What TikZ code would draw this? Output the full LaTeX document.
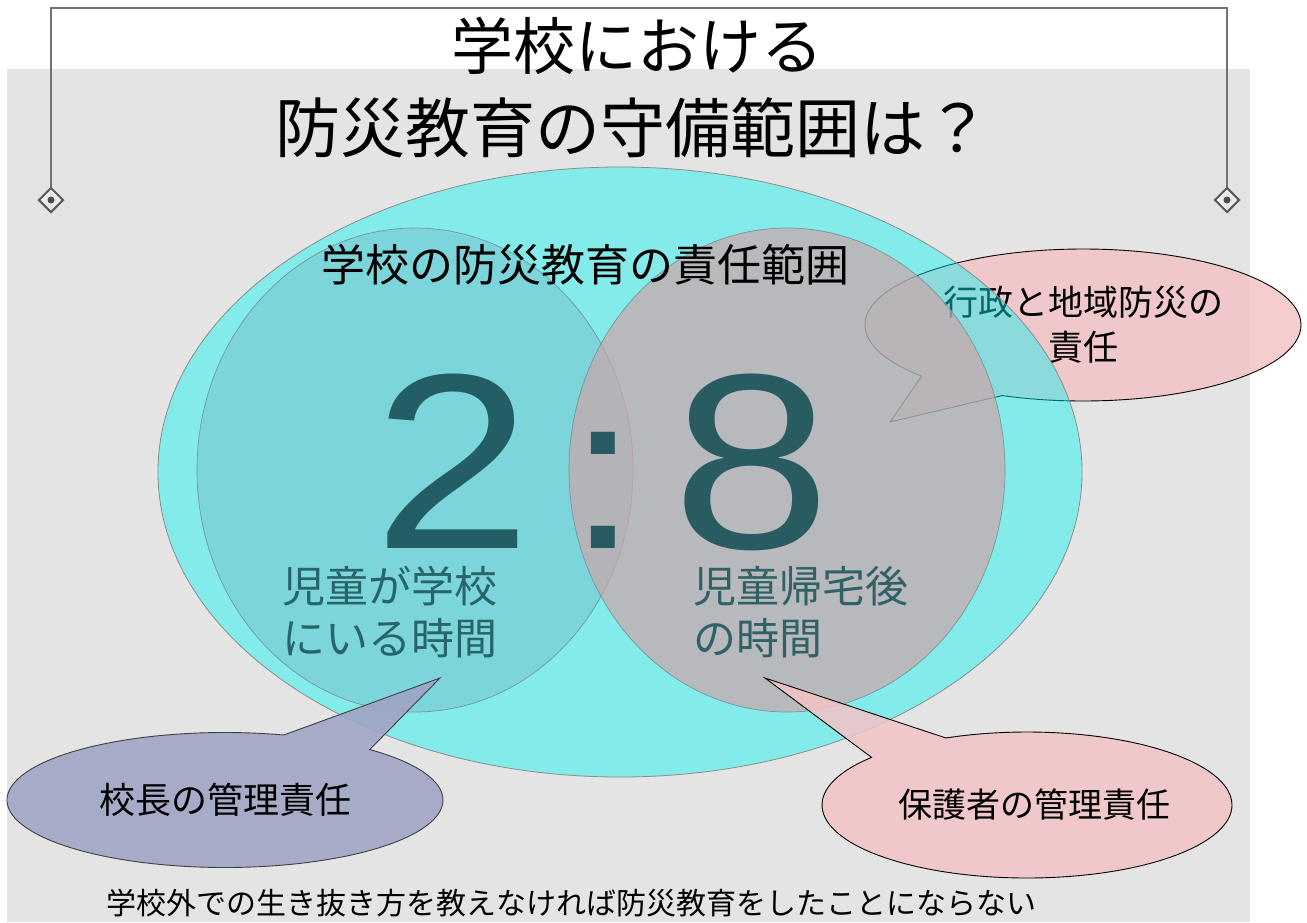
\documentclass[tikz,border=0pt]{standalone}
\usepackage{fontspec}
\setmainfont{Noto Sans CJK JP}
\newfontfamily\digitfont{Liberation Sans}
\usetikzlibrary{shapes.geometric,shapes.callouts}
\definecolor{bggray}{RGB}{228,228,228}
\definecolor{zonecyan}{RGB}{0,245,245}
\definecolor{schoolblue}{RGB}{100,150,170}
\definecolor{homepink}{RGB}{205,165,170}
\definecolor{bubblepink}{RGB}{244,196,198}
\definecolor{bubbleblue}{RGB}{160,165,196}
\definecolor{darkteal}{RGB}{25,82,88}
\tikzset{
  bubble/.style={ellipse callout, draw=black, line width=0.9pt, callout pointer arc=26,
    inner sep=0pt, align=center, text opacity=1, font=\fontsize{35}{45}\selectfont},
  pinkbubble/.style={bubble, fill=bubblepink, fill opacity=0.85},
  bluebubble/.style={bubble, fill=bubbleblue, fill opacity=0.9, draw=black!75},
  marker/.style={diamond, draw=black!65, line width=2pt, fill=black!8, minimum size=25pt, inner sep=0pt},
  bignum/.style={anchor=base, inner sep=0pt, text=darkteal, text opacity=0.9, xscale=1.14, transform shape},
  timetext/.style={anchor=west, align=left, inner sep=0pt, text=darkteal, text opacity=0.85, font=\fontsize{43}{52}\selectfont},
}
\begin{document}
\begin{tikzpicture}[x=1pt,y=-1pt]
  \useasboundingbox (0,0) rectangle (1307,922);
  \fill[bggray] (7,69) rectangle (1250,922); % slide background
  % bracket with markers
  \node[marker] (markL) at (51,200) {};
  \node[marker] (markR) at (1227,200) {};
  \fill[black!70] (markL) circle (3.5pt);
  \fill[black!70] (markR) circle (3.5pt);
  \coordinate (barmid) at (639,8);
  \draw[black!55, line width=1.5pt] (markL.north) |- (barmid) -| (markR.north);
  % title
  \node[font=\fontsize{62}{70}\selectfont] (title1) at (637,46) {学校における};
  \node[font=\fontsize{65}{72}\selectfont] (title2) at (633,128) {防災教育の守備範囲は？};
  % callout behind the zone
  \coordinate (tipAdmin) at (890,422);
  \node[pinkbubble, minimum width=436pt, minimum height=152pt, callout absolute pointer={(tipAdmin)}] (admin) at (1083,325) {行政と地域防災の\\責任};
  % zones
  \node[ellipse, draw=black!45, line width=0.8pt, fill=zonecyan, fill opacity=0.42, minimum width=924pt, minimum height=610pt] (zone) at (620,472) {};
  \node[ellipse, draw=darkteal!60, line width=0.7pt, fill=schoolblue, fill opacity=0.25, minimum width=436pt, minimum height=484pt] (school) at (415,470) {};
  \node[ellipse, draw=darkteal!60, line width=0.7pt, fill=homepink, fill opacity=0.7, minimum width=436pt, minimum height=484pt] (home) at (787,470) {};
  \node[font=\fontsize{44}{50}\selectfont] (zonelabel) at (585,265) {学校の防災教育の責任範囲};
  % ratio
  \node[bignum, font=\digitfont\fontsize{250}{256}\selectfont] (two) at (453,548) {2};
  \node[bignum, font=\digitfont\fontsize{220}{230}\selectfont] (colon) at (603,548) {:};
  \node[bignum, font=\digitfont\fontsize{250}{256}\selectfont] (eight) at (752,548) {8};
  \node[timetext] (schooltime) at (282,612) {児童が学校\\にいる時間};
  \node[timetext] (hometime) at (693,612) {児童帰宅後\\の時間};
  % bottom callouts
  \coordinate (tipPrincipal) at (440,678);
  \coordinate (tipParent) at (765,678);
  \node[bluebubble, minimum width=436pt, minimum height=135pt, callout absolute pointer={(tipPrincipal)}] (principal) at (225,800) {\fontsize{36}{44}\selectfont 校長の管理責任};
  \node[pinkbubble, minimum width=410pt, minimum height=146pt, callout absolute pointer={(tipParent)}] (parent) at (1027,805) {\fontsize{34}{44}\selectfont\hspace*{14pt}保護者の管理責任};
  \node[anchor=west, font=\fontsize{30}{36}\selectfont] (note) at (103,903) {学校外での生き抜き方を教えなければ防災教育をしたことにならない};
\end{tikzpicture}
\end{document}
